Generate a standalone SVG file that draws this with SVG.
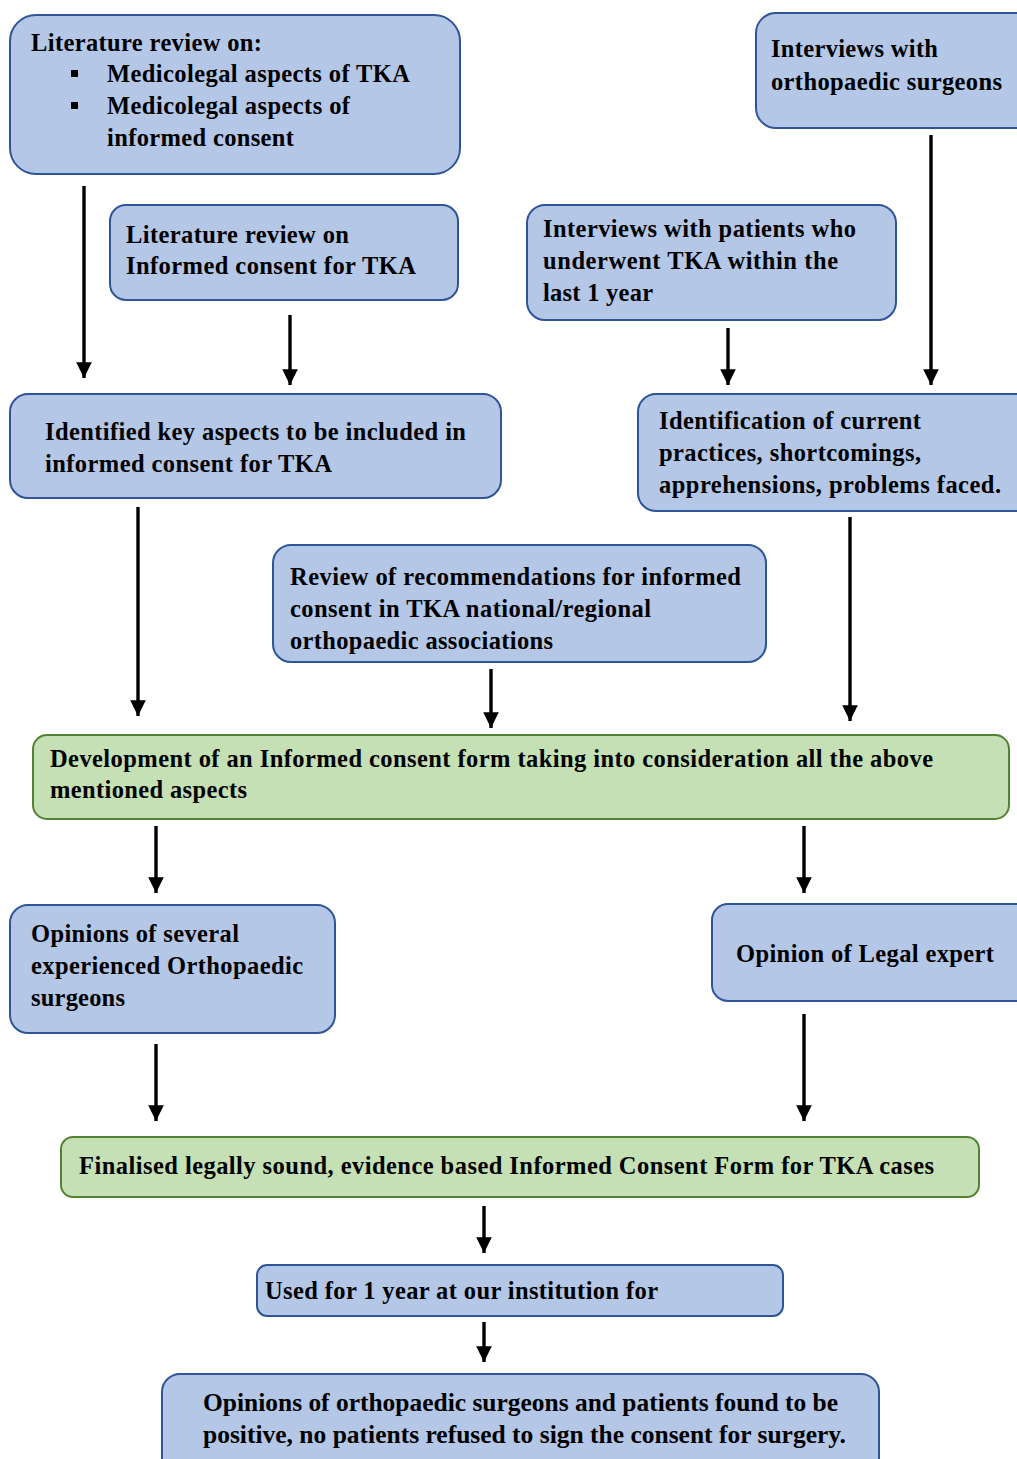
<svg xmlns="http://www.w3.org/2000/svg" width="1017" height="1459" viewBox="0 0 1017 1459">
<defs>
<marker id="ah" markerWidth="5" markerHeight="5" refX="4.6" refY="2.5" orient="auto" markerUnits="strokeWidth">
<path d="M0,0.2 L4.6,2.5 L0,4.8 Z" fill="#000"/>
</marker>
<style>
.b{fill:#B4C7E7;stroke:#2F5597;stroke-width:2}
.g{fill:#C5E0B4;stroke:#548235;stroke-width:2}
text{font-family:"Liberation Serif","Times New Roman",serif;font-weight:bold;font-size:24.5px;fill:#000}
.c line{stroke:#000;stroke-width:3.4;marker-end:url(#ah)}
</style>
</defs>
<rect width="1017" height="1459" fill="#fff"/>
<g id="n1"><rect class="b" x="10" y="15" width="450" height="159" rx="26"/>
<text x="31" y="51" textLength="231" lengthAdjust="spacing">Literature review on:</text>
<rect x="71" y="70" width="7" height="7" fill="#000"/><rect x="71" y="102" width="7" height="7" fill="#000"/>
<text x="107" y="82" textLength="303" lengthAdjust="spacing">Medicolegal aspects of TKA</text>
<text x="107" y="114" textLength="243" lengthAdjust="spacing">Medicolegal aspects of</text>
<text x="107" y="146" textLength="187" lengthAdjust="spacing">informed consent</text></g>
<g id="n2"><rect class="b" x="110" y="205" width="348" height="95" rx="16"/>
<text x="126" y="243" textLength="223" lengthAdjust="spacing">Literature review on</text>
<text x="126" y="274" textLength="290" lengthAdjust="spacing">Informed consent for TKA</text></g>
<g id="n3"><rect class="b" x="756" y="13" width="280" height="115" rx="20"/>
<text x="771" y="57" textLength="167" lengthAdjust="spacing">Interviews with</text>
<text x="771" y="90" textLength="231" lengthAdjust="spacing">orthopaedic surgeons</text></g>
<g id="n4"><rect class="b" x="527" y="205" width="369" height="115" rx="18"/>
<text x="543" y="237" textLength="313" lengthAdjust="spacing">Interviews with patients who</text>
<text x="543" y="269" textLength="295" lengthAdjust="spacing">underwent TKA within the</text>
<text x="543" y="301" textLength="110" lengthAdjust="spacing">last 1 year</text></g>
<g id="n5"><rect class="b" x="10" y="394" width="491" height="104" rx="18"/>
<text x="45" y="440" textLength="421" lengthAdjust="spacing">Identified key aspects to be included in</text>
<text x="45" y="472" textLength="287" lengthAdjust="spacing">informed consent for TKA</text></g>
<g id="n6"><rect class="b" x="638" y="394" width="400" height="117" rx="18"/>
<text x="659" y="429" textLength="262" lengthAdjust="spacing">Identification of current</text>
<text x="659" y="461" textLength="262" lengthAdjust="spacing">practices, shortcomings,</text>
<text x="659" y="493" textLength="342" lengthAdjust="spacing">apprehensions, problems faced.</text></g>
<g id="n7"><rect class="b" x="273" y="545" width="493" height="117" rx="18"/>
<text x="290" y="585" textLength="451" lengthAdjust="spacing">Review of recommendations for informed</text>
<text x="290" y="617" textLength="361" lengthAdjust="spacing">consent in TKA national/regional</text>
<text x="290" y="649" textLength="263" lengthAdjust="spacing">orthopaedic associations</text></g>
<g id="n8"><rect class="g" x="33" y="735" width="976" height="84" rx="14"/>
<text x="50" y="767" textLength="883" lengthAdjust="spacing">Development of an Informed consent form taking into consideration all the above</text>
<text x="50" y="798" textLength="197" lengthAdjust="spacing">mentioned aspects</text></g>
<g id="n9"><rect class="b" x="10" y="905" width="325" height="128" rx="18"/>
<text x="31" y="942" textLength="208" lengthAdjust="spacing">Opinions of several</text>
<text x="31" y="974" textLength="272" lengthAdjust="spacing">experienced Orthopaedic</text>
<text x="31" y="1006" textLength="94" lengthAdjust="spacing">surgeons</text></g>
<g id="n10"><rect class="b" x="712" y="904" width="325" height="97" rx="16"/>
<text x="736" y="962" textLength="258" lengthAdjust="spacing">Opinion of Legal expert</text></g>
<g id="n11"><rect class="g" x="61" y="1137" width="918" height="60" rx="12"/>
<text x="79" y="1174" textLength="855" lengthAdjust="spacing">Finalised legally sound, evidence based Informed Consent Form for TKA cases</text></g>
<g id="n12"><rect class="b" x="257" y="1265" width="526" height="51" rx="10"/>
<text x="265" y="1299" textLength="393" lengthAdjust="spacing">Used for 1 year at our institution for</text></g>
<g id="n13"><rect class="b" x="162" y="1374" width="717" height="110" rx="18"/>
<text x="203" y="1411" textLength="635" lengthAdjust="spacingAndGlyphs">Opinions of orthopaedic surgeons and patients found to be</text>
<text x="203" y="1443" textLength="643" lengthAdjust="spacingAndGlyphs">positive, no patients refused to sign the consent for surgery.</text></g>
<g id="connectors" class="c">
<line x1="84" y1="186" x2="84" y2="378"/>
<line x1="290" y1="315" x2="290" y2="385"/>
<line x1="728" y1="328" x2="728" y2="385"/>
<line x1="931" y1="135" x2="931" y2="385"/>
<line x1="138" y1="507" x2="138" y2="716"/>
<line x1="491" y1="669" x2="491" y2="728"/>
<line x1="850" y1="517" x2="850" y2="721"/>
<line x1="156" y1="826" x2="156" y2="893"/>
<line x1="804" y1="826" x2="804" y2="893"/>
<line x1="156" y1="1044" x2="156" y2="1121"/>
<line x1="804" y1="1014" x2="804" y2="1121"/>
<line x1="484" y1="1206" x2="484" y2="1253"/>
<line x1="484" y1="1322" x2="484" y2="1362"/>
</g>
</svg>
